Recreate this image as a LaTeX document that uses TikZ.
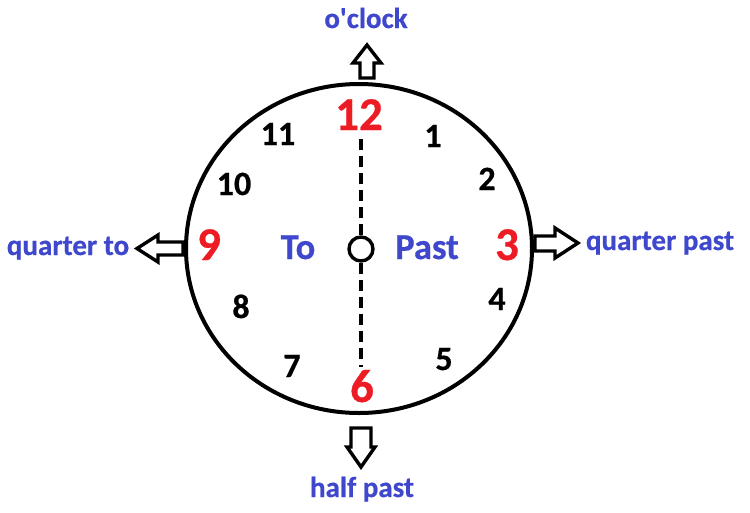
\documentclass[tikz,border=0pt]{standalone}
\usepackage{fontspec}
\setmainfont{Carlito}[BoldFeatures={FakeBold=0.6}]
\definecolor{clkblue}{HTML}{3F48CC}
\definecolor{clkred}{HTML}{ED1C24}
\begin{document}
\begin{tikzpicture}[x=1pt,y=-1pt,
  num/.style={font=\fontsize{34}{34}\selectfont\bfseries, anchor=base, inner sep=0pt, text=black},
  bignum/.style={font=\fontsize{47}{47}\selectfont\bfseries, anchor=base, inner sep=0pt, text=clkred},
  side/.style={font=\fontsize{36.5}{36.5}\selectfont\bfseries, anchor=base, inner sep=0pt, text=clkblue},
  lbl/.style={font=\fontsize{29}{29}\selectfont\bfseries, anchor=base, inner sep=0pt, text=clkblue},
  blockarrow/.style={draw=black, line width=3.4pt, line join=miter, fill=white}]
\useasboundingbox (0,0) rectangle (750,512);
% clock face
\draw[line width=4pt] (359,248.5) ellipse [x radius=173, y radius=164.5];
% hands (dashed)
\node[circle, draw, line width=3.4pt, minimum size=24pt, inner sep=0pt] (hub) at (361,249) {};
\coordinate (top) at (361,138);
\coordinate (bot) at (361,367);
\draw[line width=3.6pt, dash pattern=on 11pt off 6pt] (hub.north) -- (top);
\draw[line width=3.6pt, dash pattern=on 11pt off 6pt] (hub.south) -- (bot);
% numbers
\node[bignum] (n12) at (359,130) {12};
\node[num] (n1) at (433,147) {1};
\node[num] (n2) at (487,190) {2};
\node[bignum] (n3) at (507,260) {3};
\node[num] (n4) at (497,310) {4};
\node[num] (n5) at (444,370) {5};
\node[bignum] (n6) at (362,402) {6};
\node[num] (n7) at (292,377) {7};
\node[num] (n8) at (241,318) {8};
\node[bignum] (n9) at (209,260) {9};
\node[num] (n10) at (234,195) {10};
\node[num] (n11) at (278,145) {11};
\node[side] (to) at (298,259) {To};
\node[side] (past) at (427,259) {Past};
% block arrows
\draw[blockarrow] (360,78) -- (360,63) -- (353,63) -- (367,45) -- (381,63) -- (374,63) -- (374,78) -- cycle;
\draw[blockarrow] (351,428) -- (351,447) -- (347,447) -- (361,467) -- (375,447) -- (371,447) -- (371,428) -- cycle;
\draw[blockarrow] (183,242) -- (158,242) -- (158,235) -- (137,248.5) -- (158,262) -- (158,255) -- (183,255) -- cycle;
\draw[blockarrow] (535,236) -- (555,236) -- (555,228) -- (578,243) -- (555,258) -- (555,251) -- (535,251) -- cycle;
% labels
\node[lbl] (oclock) at (366,28) {o\textquotesingle clock};
\node[lbl] (half) at (362,497) {half past};
\node[lbl] (qto) at (68,255) {quarter to};
\node[lbl] (qpast) at (660,250) {quarter past};
\end{tikzpicture}
\end{document}
